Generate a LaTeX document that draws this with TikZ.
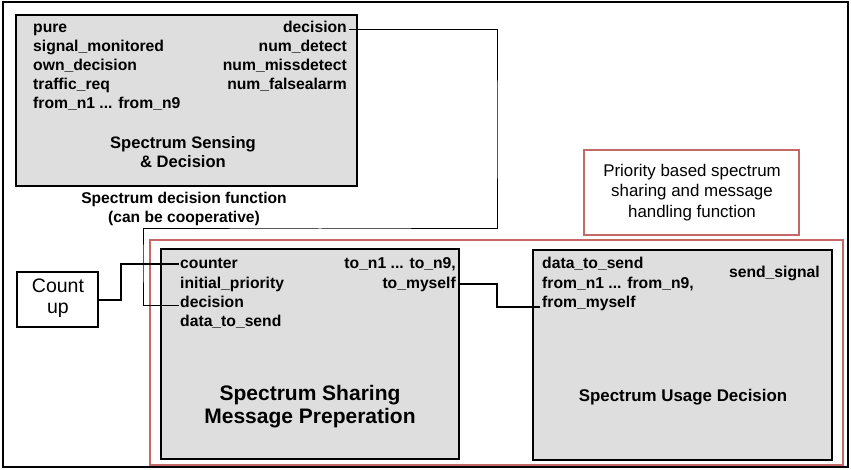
\documentclass[tikz,border=0pt]{standalone}
\usepackage{fontspec}
\setmainfont{Liberation Sans}
\usetikzlibrary{calc}
\definecolor{boxgray}{HTML}{DEDEDE}
\definecolor{framered}{HTML}{C46868}

\begin{document}
\begin{tikzpicture}[x=1pt,y=-1pt,
  block/.style={anchor=north west, inner sep=0pt, outer sep=0pt},
  graybox/.style={block, draw=black, line width=1.8pt, fill=boxgray},
  redbox/.style={block, draw=framered, line width=1.4pt},
  plainbox/.style={block, draw=black, line width=1.2pt},
  port/.style={font=\bfseries\fontsize{15.7}{19}\selectfont, inner sep=0pt},
  portL/.style={port, anchor=base west},
  portR/.style={port, anchor=base east},
  caption/.style={inner sep=0pt, anchor=base},
  wire/.style={draw=black, line width=1pt},
]
\useasboundingbox (0,0) rectangle (851,470);

% frames
\node[plainbox, line width=1.8pt, minimum width=845pt, minimum height=465pt] (frame) at (3,2) {};
\node[redbox, minimum width=693pt, minimum height=225pt] (prio) at (150,240) {};
\node[redbox, minimum width=215pt, minimum height=85pt] (note) at (584,150) {};

% function blocks
\node[graybox, minimum width=341pt, minimum height=171pt] (ssd) at (16,15) {};
\node[graybox, minimum width=298pt, minimum height=210pt] (ssm) at (161,249) {};
\node[graybox, minimum width=299pt, minimum height=210pt] (sud) at (533,250) {};
\node[plainbox, minimum width=81pt, minimum height=55pt] (cnt) at (17,272) {};

% Spectrum Sensing & Decision ports
\node[portL] (ssdIn1) at (33,33) {pure};
\node[portL] (ssdIn2) at (33,52) {signal\_monitored};
\node[portL] (ssdIn3) at (33,71) {own\_decision};
\node[portL] (ssdIn4) at (33,90) {traffic\_req};
\node[portL] (ssdIn5) at (33,109) {from\_n1 ... from\_n9};
\node[portR] (decOut) at (347,33) {decision};
\node[portR] (ssdOut2) at (347,52) {num\_detect};
\node[portR] (ssdOut3) at (347,71) {num\_missdetect};
\node[portR] (ssdOut4) at (347,90) {num\_falsealarm};
\node[caption, font=\bfseries\fontsize{16.6}{19}\selectfont] (ssdT1) at (183,149) {Spectrum Sensing};
\node[caption, font=\bfseries\fontsize{16.6}{19}\selectfont] (ssdT2) at (183,168) {\& Decision};
\node[caption, font=\bfseries\fontsize{15.6}{19}\selectfont] (ssdC1) at (184,204) {Spectrum decision function};
\node[caption, font=\bfseries\fontsize{15.6}{19}\selectfont] (ssdC2) at (184,223) {(can be cooperative)};

% note text
\node[caption, font=\fontsize{16.9}{20}\selectfont] (noteT1) at (692,177) {Priority based spectrum};
\node[caption, font=\fontsize{16.9}{20}\selectfont] (noteT2) at (692,197) {sharing and message};
\node[caption, font=\fontsize{16.9}{20}\selectfont] (noteT3) at (692,218) {handling function};

% counter block
\node[caption, font=\fontsize{19.5}{22}\selectfont] (cntT1) at (58,293) {Count};
\node[caption, font=\fontsize{19.5}{22}\selectfont] (cntT2) at (58,313) {up};

% Spectrum Sharing Message Preperation ports
\node[portL] (cntIn) at (180,269) {counter};
\node[portL] (ssmIn2) at (180,288) {initial\_priority};
\node[portL] (decIn) at (180,307) {decision};
\node[portL] (ssmIn4) at (180,326) {data\_to\_send};
\node[portR] (ssmOut1) at (456,269) {to\_n1 ... to\_n9,};
\node[portR] (toMy) at (456,288) {to\_myself};
\node[caption, font=\bfseries\fontsize{21}{24}\selectfont] (ssmT1) at (310,400) {Spectrum Sharing};
\node[caption, font=\bfseries\fontsize{21}{24}\selectfont] (ssmT2) at (310,423) {Message Preperation};

% Spectrum Usage Decision ports
\node[portL] (sudIn1) at (542,269) {data\_to\_send};
\node[portL] (sudIn2) at (542,288) {from\_n1 ... from\_n9,};
\node[portL] (fromMy) at (542,307) {from\_myself};
\node[portR] (sendOut) at (820,277) {send\_signal};
\node[caption, font=\bfseries\fontsize{16.9}{20}\selectfont] (sudT) at (683,401) {Spectrum Usage Decision};

% connectors
\coordinate (decA) at ($(decOut.base east)+(2,-3)$);
\coordinate (decB) at ($(decIn.base west)+(-1,-2)$);
\draw[wire] (decA) -| (497,130) |- (320,229) -| (143,260) |- (decB);

\coordinate (cntB) at ($(cntIn.base west)+(-1,-5)$);
\draw[wire, line width=2pt] (cnt.east) -| (121,280) |- (cntB);

\coordinate (tmA) at (ssm.east |- 0,284);
\coordinate (tmB) at ($(fromMy.base west)+(-2,0)$);
\draw[wire, line width=1.6pt] (tmA) -| (497,295) |- (tmB);
\end{tikzpicture}
\end{document}
